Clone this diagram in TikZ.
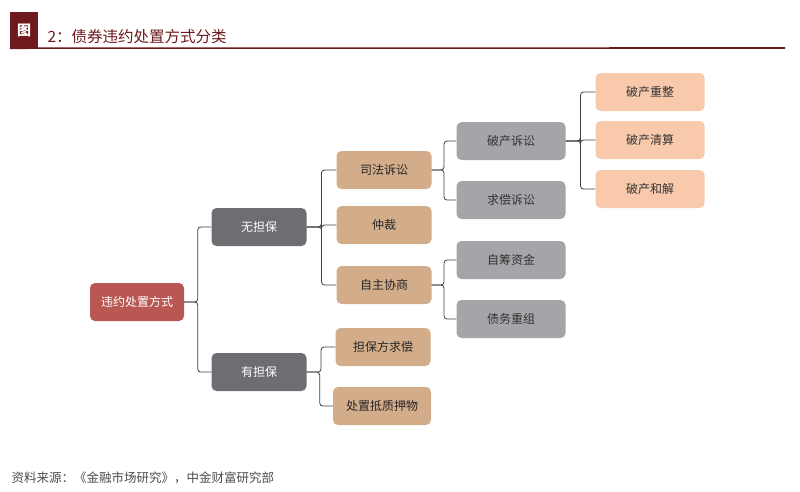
\documentclass[tikz,border=0pt]{standalone}
\usepackage{fontspec}
\setmainfont{Noto Sans CJK SC}
\usetikzlibrary{calc}
\definecolor{rootRed}{HTML}{B95752}
\definecolor{darkGray}{HTML}{6E6D71}
\definecolor{midGray}{HTML}{A5A4A8}
\definecolor{tanBox}{HTML}{D3AD89}
\definecolor{peachBox}{HTML}{F9C9AB}
\definecolor{titleRed}{HTML}{6E1A1C}
\definecolor{lineGray}{HTML}{3F3F41}

\begin{document}
\begin{tikzpicture}[
  x=1pt, y=-1pt,
  box/.style={rounded corners=5pt, inner sep=0pt, minimum height=38pt, align=center, font=\fontsize{12}{14}\selectfont},
  rootbox/.style={box, fill=rootRed, text=white, minimum width=94pt},
  lvlone/.style={box, fill=darkGray, text=white, minimum width=95pt},
  lvltwo/.style={box, fill=tanBox, text=black!85, minimum width=95pt},
  lvlthree/.style={box, fill=midGray, text=black!80, minimum width=109pt},
  lvlfour/.style={box, fill=peachBox, text=black!80, minimum width=109pt},
  link/.style={draw=lineGray, thick, rounded corners=3pt}
]
  \useasboundingbox (0,0) rectangle (800,491);

  % title bar
  \node[fill=titleRed, text=white, minimum width=28pt, minimum height=36pt, inner sep=0pt,
        font=\fontsize{14}{16}\selectfont\bfseries] (fig) at (24,30) {图};
  \node[anchor=west, text=titleRed, font=\fontsize{15.5}{17}\selectfont] (title) at (44,37) {2：债券违约处置方式分类};
  \coordinate (ruleend) at (785,48);
  \draw[titleRed, line width=1.6pt] (fig.south west) -- (ruleend);

  % tree
  \node[rootbox] (root) at (137,302) {违约处置方式};

  \node[lvlone] (nogu) at (259,227) {无担保};
  \node[lvlone] (yegu) at (259,372) {有担保};

  \node[lvltwo] (sifa) at (384,170) {司法诉讼};
  \node[lvltwo] (zhong) at (384,225) {仲裁};
  \node[lvltwo] (xies) at (384,285) {自主协商};
  \node[lvltwo] (qiuc) at (383,347) {担保方求偿};
  \node[lvltwo, minimum width=98pt] (diya) at (382,406) {处置抵质押物};

  \node[lvlthree] (pcss) at (511,141) {破产诉讼};
  \node[lvlthree] (qcss) at (511,200) {求偿诉讼};
  \node[lvlthree] (zczj) at (511,260) {自筹资金};
  \node[lvlthree] (zwcz) at (511,319) {债务重组};

  \node[lvlfour] (pczz) at (650,92) {破产重整};
  \node[lvlfour] (pcqs) at (650,140) {破产清算};
  \node[lvlfour] (pchj) at (650,189) {破产和解};

  % elbow links
  \foreach \p/\c in {root/nogu, root/yegu,
                     nogu/sifa, nogu/zhong, nogu/xies,
                     yegu/qiuc, yegu/diya,
                     sifa/pcss, sifa/qcss,
                     xies/zczj, xies/zwcz,
                     pcss/pczz, pcss/pcqs, pcss/pchj}
    \draw[link] (\p.east) -| ($(\p.east)!.5!(\c.west)$) |- (\c.west);

  % source
  \node[anchor=west, text=black!70, font=\fontsize{12.5}{14}\selectfont] (src) at (8,478) {资料来源：《金融市场研究》，中金财富研究部};
\end{tikzpicture}
\end{document}
